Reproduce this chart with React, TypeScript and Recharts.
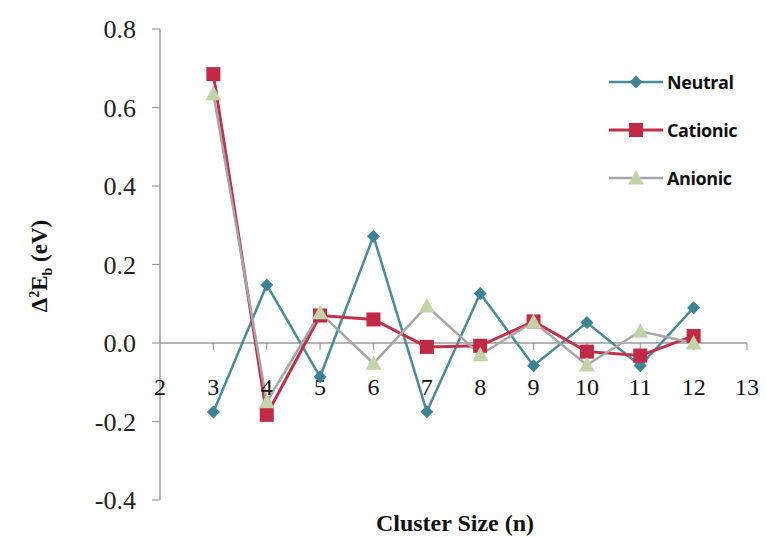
import React from "react";
import { LineChart, Line, XAxis, YAxis, ReferenceLine, ReferenceDot } from "recharts";

// second-order energy difference vs cluster size
const clusterSizes = [3, 4, 5, 6, 7, 8, 9, 10, 11, 12];
const neutral = [-0.176, 0.148, -0.086, 0.272, -0.175, 0.126, -0.058, 0.052, -0.058, 0.09];
const cationic = [0.685, -0.183, 0.07, 0.06, -0.01, -0.007, 0.055, -0.022, -0.032, 0.018];
const anionic = [0.635, -0.15, 0.077, -0.052, 0.094, -0.03, 0.054, -0.056, 0.03, 0.0];
const xTicks = [2, 3, 4, 5, 6, 7, 8, 9, 10, 11, 12, 13];
const yTicks = [-0.4, -0.2, 0, 0.2, 0.4, 0.6, 0.8];

const data = clusterSizes.map((n, i) => ({
  n,
  neutral: neutral[i],
  cationic: cationic[i],
  anionic: anionic[i],
}));

const AXIS = "#9a9a9a";
const SERIF = "'Liberation Serif', 'Times New Roman', serif";

type Marker = "diamond" | "square" | "triangle";

const series: { key: string; name: string; line: string; fill: string; marker: Marker; width: number }[] = [
  { key: "neutral", name: "Neutral", line: "#4b8a9a", fill: "#3f8296", marker: "diamond", width: 2.5 },
  { key: "cationic", name: "Cationic", line: "#c0304b", fill: "#c02a44", marker: "square", width: 3 },
  { key: "anionic", name: "Anionic", line: "#a6a6a6", fill: "#c3d3a9", marker: "triangle", width: 2.5 },
];

const drawMarker = (kind: Marker, cx: number, cy: number, fill: string, key?: React.Key) => {
  if (kind === "diamond") {
    const r = 6.5;
    return <path key={key} d={`M${cx},${cy - r}L${cx + r},${cy}L${cx},${cy + r}L${cx - r},${cy}Z`} fill={fill} />;
  }
  if (kind === "square") {
    const h = 7;
    return <rect key={key} x={cx - h} y={cy - h} width={h * 2} height={h * 2} fill={fill} />;
  }
  const s = 8;
  return <path key={key} d={`M${cx},${cy - s}L${cx + s},${cy + s * 0.8}L${cx - s},${cy + s * 0.8}Z`} fill={fill} />;
};

const LegendBox = () => (
  <div style={{ position: "absolute", left: 608, top: 58 }}>
    {series.map((s) => (
      <div key={s.key} style={{ display: "flex", alignItems: "center", height: 48 }}>
        <svg width={56} height={20}>
          <line x1={1} y1={10} x2={55} y2={10} stroke={s.line} strokeWidth={s.width} />
          {drawMarker(s.marker, 28, 10, s.fill)}
        </svg>
        <span
          style={{
            fontFamily: "'Open Sans', sans-serif",
            fontWeight: 700,
            fontSize: 18,
            letterSpacing: -0.4,
            color: "#111",
            marginLeft: 3,
          }}
        >
          {s.name}
        </span>
      </div>
    ))}
  </div>
);

// x-axis tick mark and label drawn where the x axis crosses y = 0
const xTickShape = (label: number) => (props: any) => {
  const { cx, cy } = props;
  return (
    <g>
      {label !== 2 && <line x1={cx} y1={cy} x2={cx} y2={cy + 7} stroke={AXIS} strokeWidth={1.2} />}
      <text
        x={cx}
        y={cy + 52}
        textAnchor="middle"
        fontFamily={SERIF}
        fontSize={24}
        fill="#111"
      >
        {label}
      </text>
    </g>
  );
};

export default function App() {
  return (
    <div style={{ position: "absolute", left: 0, top: 0, width: 766, height: 538, background: "#fff" }}>
      <LineChart width={766} height={538} data={data} margin={{ top: 29, right: 19, bottom: 38, left: 100 }}>
        <XAxis dataKey="n" type="number" domain={[2, 13]} ticks={xTicks} hide />
        <YAxis
          type="number"
          domain={[-0.4, 0.8]}
          ticks={yTicks}
          width={60}
          tickFormatter={(v: number) => v.toFixed(1)}
          tick={{ fontFamily: SERIF, fontSize: 26, fill: "#222" }}
          tickSize={8}
          tickMargin={16}
          axisLine={{ stroke: AXIS, strokeWidth: 1.5 }}
          tickLine={{ stroke: AXIS, strokeWidth: 1.2 }}
        />
        <ReferenceLine y={0} stroke={AXIS} strokeWidth={1.5} />
        {xTicks.map((t) => (
          <ReferenceDot key={t} x={t} y={0} r={0} shape={xTickShape(t)} />
        ))}
        {series.map((s) => (
          <Line
            key={s.key}
            dataKey={s.key}
            name={s.name}
            stroke={s.line}
            strokeWidth={s.width}
            isAnimationActive={false}
            dot={(p: any) => drawMarker(s.marker, p.cx, p.cy, s.fill, `${s.key}-${p.index}`)}
            activeDot={false}
          />
        ))}
      </LineChart>
      <LegendBox />
      <svg width={766} height={538} style={{ position: "absolute", left: 0, top: 0, pointerEvents: "none" }}>
        <text
          transform="translate(47,266) rotate(-90)"
          textAnchor="middle"
          fontFamily={SERIF}
          fontWeight="bold"
          fontSize={23}
          fill="#111"
        >
          Δ<tspan dy={-8} fontSize={14}>2</tspan>
          <tspan dy={8}>E</tspan>
          <tspan dy={5} fontSize={14}>b</tspan>
          <tspan dy={-5}> (eV)</tspan>
        </text>
        <text x={455} y={531} textAnchor="middle" fontFamily={SERIF} fontWeight="bold" fontSize={24} fill="#111">
          Cluster Size (n)
        </text>
      </svg>
    </div>
  );
}
